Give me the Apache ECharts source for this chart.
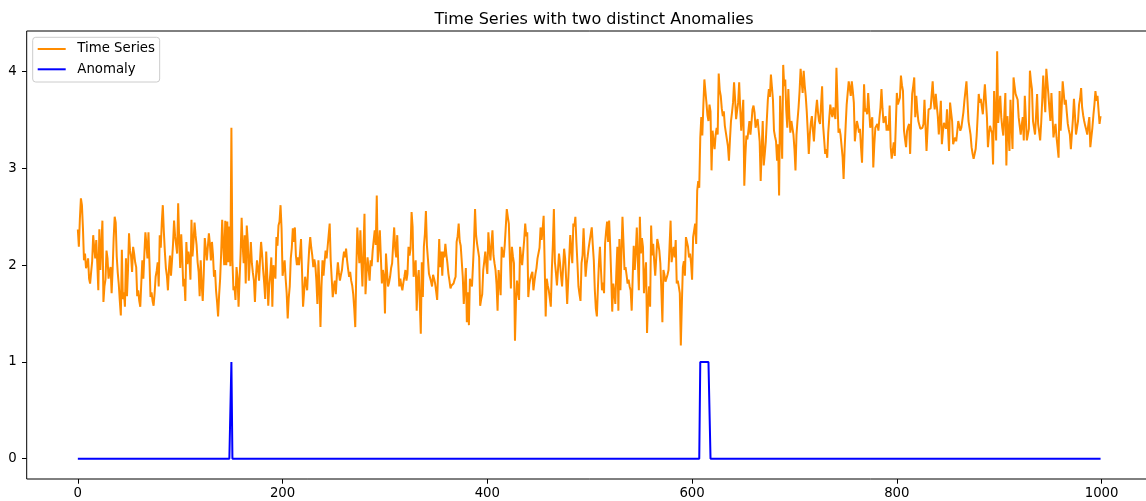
<!DOCTYPE html>
<html>
<head>
<meta charset="utf-8">
<script src="https://cdn.jsdelivr.net/npm/echarts@6/dist/echarts.min.js"></script>
<style>
  html, body { margin: 0; padding: 0; background: #fff; overflow: hidden; }
  #chart { width: 1160px; height: 501px; }
</style>
</head>
<body>
<div id="chart"></div>
<script>
// Time series readings, 100 samples per block (index 0..999)
const seg0 = [ // 0-99
  2.37, 2.19, 2.48, 2.69, 2.62, 2.38, 2.05, 2.12, 1.97, 2.00,
  2.07, 1.86, 1.81, 1.93, 2.04, 2.31, 2.18, 2.07, 2.26, 2.02,
  1.74, 2.37, 1.95, 2.21, 2.46, 1.62, 1.78, 1.85, 2.15, 2.07,
  1.86, 1.94, 1.98, 1.71, 1.96, 2.28, 2.50, 2.44, 2.09, 1.92,
  1.80, 1.63, 1.48, 2.16, 1.65, 1.72, 1.57, 2.07, 1.68, 1.95,
  2.33, 2.15, 2.09, 1.93, 2.19, 2.12, 2.03, 1.98, 1.68, 1.74,
  1.63, 1.57, 1.82, 2.05, 1.86, 2.12, 2.34, 2.21, 2.07, 2.34,
  2.02, 1.67, 1.72, 1.63, 1.58, 1.71, 1.88, 1.94, 2.03, 1.78,
  2.31, 2.18, 2.44, 2.62, 2.35, 2.14, 1.97, 1.89, 1.74, 1.96,
  2.10, 1.89, 2.05, 2.22, 2.46, 2.30, 2.21, 2.12, 2.64, 2.27
];
const seg1 = [ // 100-199
  1.97, 2.32, 2.08, 1.78, 1.86, 1.63, 2.24, 2.01, 2.14, 2.06,
  1.85, 2.47, 2.09, 2.24, 2.44, 2.31, 2.21, 2.03, 1.93, 1.68,
  2.05, 1.79, 1.63, 1.91, 2.28, 2.17, 2.05, 2.19, 2.33, 2.22,
  2.05, 2.24, 2.11, 1.88, 1.95, 1.74, 1.62, 1.47, 1.69, 1.86,
  2.12, 2.47, 2.21, 2.00, 2.46, 2.00, 2.45, 2.03, 2.40, 1.99,
  3.42, 2.05, 1.74, 1.78, 1.64, 1.98, 1.87, 1.57, 1.86, 2.12,
  2.49, 2.21, 2.02, 2.31, 1.81, 2.41, 2.25, 1.84, 2.04, 2.24,
  2.02, 1.92, 1.84, 1.62, 1.88, 2.05, 1.97, 1.84, 2.06, 2.24,
  2.11, 1.95, 1.82, 1.65, 2.14, 1.90, 1.58, 1.79, 1.91, 2.08,
  1.57, 2.00, 1.93, 1.86, 2.29, 2.20, 2.41, 2.45, 2.62, 2.38
];
const seg2 = [ // 200-299
  1.89, 1.97, 2.05, 1.86, 1.71, 1.45, 1.66, 1.78, 2.07, 2.18,
  2.38, 2.24, 2.39, 2.10, 2.00, 2.08, 2.00, 2.12, 2.27, 1.94,
  1.57, 1.72, 1.88, 1.81, 1.74, 1.98, 2.17, 2.29, 2.18, 2.10,
  1.98, 2.06, 2.00, 1.84, 1.60, 2.05, 1.77, 1.36, 1.78, 2.05,
  1.89, 2.03, 2.15, 2.07, 2.19, 2.31, 2.43, 2.05, 1.86, 1.67,
  1.78, 1.84, 1.70, 1.89, 2.03, 1.92, 1.84, 1.90, 1.95, 2.06,
  2.14, 2.08, 2.17, 2.05, 1.96, 1.88, 1.93, 1.84, 1.79, 1.70,
  1.55, 1.36, 1.94, 2.39, 2.18, 2.02, 2.36, 2.04, 1.78, 2.15,
  2.53, 1.70, 1.92, 2.08, 1.96, 1.84, 2.05, 1.99, 2.15, 2.26,
  2.36, 2.21, 2.72, 2.03, 2.19, 2.36, 2.08, 1.81, 1.95, 1.88
];
const seg3 = [ // 300-399
  1.50, 2.12, 1.94, 1.78, 1.82, 1.88, 1.97, 2.02, 2.21, 2.39,
  2.17, 2.08, 2.31, 2.02, 1.78, 1.86, 1.79, 1.74, 1.82, 1.88,
  1.95, 1.84, 1.91, 2.19, 2.10, 2.17, 2.55, 2.40, 1.88, 1.86,
  2.05, 1.53, 1.85, 1.95, 1.62, 1.29, 2.03, 1.67, 2.19, 2.32,
  2.56, 2.20, 2.06, 1.91, 1.91, 1.83, 1.78, 1.90, 1.86, 1.81,
  1.73, 1.64, 1.95, 2.27, 1.98, 2.14, 1.89, 2.14, 2.08, 2.22,
  2.11, 2.02, 1.91, 1.84, 1.76, 1.79, 1.81, 1.81, 1.85, 1.88,
  2.24, 2.30, 2.43, 2.25, 2.20, 2.19, 1.88, 1.60, 1.78, 1.97,
  1.41, 1.72, 1.38, 1.86, 1.81, 1.78, 2.00, 2.24, 2.58, 2.31,
  2.22, 2.15, 2.08, 1.58, 1.65, 1.70, 1.95, 2.04, 2.14, 2.01
];
const seg4 = [ // 400-499
  1.91, 2.34, 2.18, 2.05, 2.22, 2.36, 2.10, 2.02, 1.95, 1.80,
  1.53, 1.95, 1.84, 1.69, 2.19, 2.12, 2.08, 2.21, 2.39, 2.58,
  2.50, 2.43, 2.07, 1.76, 2.19, 2.09, 2.02, 1.22, 1.63, 1.84,
  1.72, 1.64, 2.19, 2.08, 2.00, 2.13, 2.26, 2.43, 2.30, 2.34,
  1.67, 1.80, 1.86, 1.90, 1.93, 1.74, 1.83, 1.91, 1.97, 2.07,
  2.07, 2.18, 2.39, 2.26, 2.37, 2.51, 2.02, 1.47, 1.86, 1.79,
  1.74, 1.66, 1.57, 1.95, 2.21, 2.58, 2.03, 1.92, 1.79, 1.95,
  2.12, 2.02, 1.89, 1.78, 1.98, 2.17, 2.07, 1.85, 1.60, 1.84,
  2.08, 2.31, 2.15, 2.02, 2.43, 2.40, 2.50, 2.24, 2.02, 1.78,
  1.70, 1.63, 2.02, 2.10, 2.38, 2.12, 1.88, 2.01, 2.09, 2.18
];
const seg5 = [ // 500-599
  2.25, 2.32, 2.39, 2.21, 2.05, 1.74, 1.55, 1.47, 1.76, 2.02,
  2.19, 1.95, 1.74, 1.82, 1.71, 2.22, 2.35, 2.45, 2.24, 2.46,
  2.20, 1.88, 1.52, 1.81, 1.72, 1.60, 1.93, 2.19, 1.53, 2.27,
  1.74, 2.12, 2.50, 2.23, 1.95, 1.98, 1.90, 1.81, 1.85, 1.78,
  1.74, 1.53, 1.88, 2.20, 1.95, 2.14, 2.39, 2.05, 1.74, 2.50,
  2.12, 2.28, 2.19, 1.71, 1.90, 2.03, 1.30, 1.62, 1.78, 1.57,
  2.41, 2.10, 2.22, 2.04, 1.89, 2.08, 2.27, 2.22, 2.15, 2.02,
  1.74, 1.41, 1.95, 1.90, 1.83, 1.85, 1.90, 1.95, 2.20, 2.46,
  2.03, 2.12, 2.19, 2.08, 2.26, 1.81, 1.84, 1.78, 1.71, 1.17,
  1.60, 1.98, 2.04, 1.89, 2.29, 2.24, 2.19, 2.08, 2.12, 2.02
];
const seg6 = [ // 600-699
  1.85, 2.29, 2.36, 2.43, 2.22, 2.77, 2.87, 2.80, 3.32, 3.53,
  3.34, 3.65, 3.92, 3.80, 3.68, 3.55, 3.49, 3.66, 3.59, 2.98,
  3.39, 3.28, 3.20, 3.35, 3.42, 3.35, 3.98, 3.81, 3.75, 3.62,
  3.54, 3.59, 3.44, 3.37, 3.30, 3.23, 3.08, 3.30, 3.49, 3.58,
  3.68, 3.89, 3.72, 3.51, 3.60, 3.68, 3.89, 3.62, 3.39, 3.55,
  3.71, 2.82, 3.12, 3.34, 3.30, 3.39, 3.49, 3.35, 3.47, 3.61,
  3.65, 3.58, 3.42, 3.47, 3.51, 3.40, 3.28, 2.87, 3.20, 3.49,
  3.03, 3.15, 3.28, 3.50, 3.71, 3.82, 3.74, 3.97, 3.84, 3.71,
  3.39, 3.33, 3.28, 3.08, 3.25, 2.72, 3.75, 3.40, 3.10, 4.07,
  3.85, 3.92, 3.60, 3.42, 3.82, 3.55, 3.37, 3.49, 3.42, 3.35
];
const seg7 = [ // 700-799
  3.20, 2.98, 3.35, 3.50, 3.63, 3.80, 4.03, 3.90, 3.78, 4.01,
  3.86, 3.75, 3.59, 3.38, 3.15, 3.35, 3.47, 3.54, 3.40, 3.28,
  3.46, 3.60, 3.71, 3.58, 3.49, 3.46, 3.66, 3.85, 3.44, 3.30,
  3.15, 3.20, 3.11, 3.37, 3.52, 3.66, 3.58, 3.53, 3.63, 3.57,
  3.51, 4.04, 3.70, 3.37, 3.41, 3.35, 3.37, 3.12, 2.89, 3.20,
  3.44, 3.66, 3.78, 3.90, 3.83, 3.75, 3.90, 3.80, 3.68, 3.28,
  3.40, 3.49, 3.44, 3.37, 3.41, 3.22, 3.06, 3.45, 3.87, 3.59,
  3.62, 3.56, 3.78, 3.60, 3.42, 3.48, 3.53, 3.01, 3.25, 3.42,
  3.44, 3.46, 3.39, 3.52, 3.63, 3.82, 3.62, 3.47, 3.50, 3.54,
  3.39, 3.45, 3.39, 3.65, 3.22, 3.10, 3.12, 3.27, 3.13, 3.45
];
const seg8 = [ // 800-899
  3.78, 3.66, 3.68, 3.73, 3.96, 3.86, 3.80, 3.39, 3.30, 3.22,
  3.39, 3.43, 3.46, 3.15, 3.50, 3.77, 3.85, 3.94, 3.53, 3.75,
  3.60, 3.49, 3.45, 3.41, 3.39, 3.42, 3.46, 3.71, 3.44, 3.18,
  3.40, 3.61, 3.59, 3.62, 3.63, 3.90, 3.70, 3.61, 3.77, 3.65,
  3.54, 3.35, 3.52, 3.70, 3.25, 3.38, 3.47, 3.44, 3.41, 3.61,
  3.40, 3.18, 3.68, 3.58, 3.49, 3.25, 3.29, 3.32, 3.28, 3.38,
  3.49, 3.44, 3.39, 3.42, 3.50, 3.58, 3.70, 3.80, 3.90, 3.70,
  3.49, 3.47, 3.35, 3.22, 3.15, 3.10, 3.08, 3.20, 3.34, 3.55,
  3.77, 3.68, 3.72, 3.70, 3.56, 3.72, 3.87, 3.70, 3.53, 3.22,
  3.35, 3.44, 3.40, 3.37, 3.04, 3.80, 3.55, 3.29, 4.21, 3.47
];
const seg9 = [ // 900-999
  3.62, 3.75, 3.53, 3.42, 3.34, 3.55, 3.78, 3.03, 3.54, 3.38,
  3.18, 3.71, 3.45, 3.20, 3.94, 3.85, 3.77, 3.74, 3.71, 3.53,
  3.44, 3.35, 3.45, 3.53, 3.29, 3.75, 3.52, 3.29, 3.35, 3.41,
  4.01, 3.90, 3.82, 3.49, 3.42, 3.35, 3.55, 3.77, 3.46, 3.38,
  3.29, 3.47, 3.70, 3.96, 3.75, 3.58, 4.03, 3.90, 3.77, 3.62,
  3.49, 3.78, 3.55, 3.32, 3.40, 3.46, 3.32, 3.22, 3.11, 3.80,
  3.39, 3.62, 3.90, 3.78, 3.66, 3.71, 3.58, 3.46, 3.40, 3.35,
  3.20, 3.36, 3.51, 3.72, 3.55, 3.35, 3.42, 3.49, 3.66, 3.72,
  3.83, 3.63, 3.55, 3.49, 3.44, 3.40, 3.35, 3.45, 3.53, 3.22,
  3.32, 3.42, 3.55, 3.66, 3.80, 3.70, 3.75, 3.76, 3.46, 3.54
];

// Indices flagged as anomalous (flag = 1, everything else 0)
const anomalyIndices = [150, 608, 609, 610, 611, 612, 613, 614, 615, 616, 617];

const xTicks = [0, 200, 400, 600, 800, 1000];
const yTicks = [0, 1, 2, 3, 4];

const seriesNames = ['Time Series', 'Anomaly'];
const chartTitle = 'Time Series with two distinct Anomalies';

// Assemble [index, value] pairs for the library
const tsValues = [].concat(seg0, seg1, seg2, seg3, seg4, seg5, seg6, seg7, seg8, seg9);
const tsData = tsValues.map((v, i) => [i, v]);
const flagged = new Set(anomalyIndices);
const anomalyData = tsValues.map((_, i) => [i, flagged.has(i) ? 1 : 0]);

const FONT = 'DejaVu Sans';
const plainNumber = v => String(v);
const chart = echarts.init(document.getElementById('chart'), null, { renderer: 'canvas' });

chart.setOption({
  animation: false,
  backgroundColor: '#ffffff',
  title: {
    text: chartTitle,
    left: 589,
    textAlign: 'center',
    top: 7,
    textStyle: { fontFamily: FONT, fontSize: 16, fontWeight: 'normal', color: '#000' }
  },
  legend: {
    data: seriesNames,
    orient: 'vertical',
    left: 32.7,
    top: 37.3,
    padding: [3.7, 4.7, 4.7, 5],
    itemGap: 4.3,
    itemWidth: 28,
    itemHeight: 2,
    icon: 'rect',
    backgroundColor: 'rgba(255,255,255,0.8)',
    borderColor: '#cccccc',
    borderWidth: 1,
    borderRadius: 3,
    selectedMode: false,
    textStyle: {
      fontFamily: FONT, fontSize: 13.3, color: '#000',
      lineHeight: 16, padding: [0, 0, 0, 6.6]
    }
  },
  grid: {
    left: 26.7,
    top: 31,
    width: 1125,
    height: 448,
    show: true,
    borderColor: '#000',
    borderWidth: 1,
    backgroundColor: 'transparent',
    containLabel: false
  },
  xAxis: {
    type: 'value',
    position: 'bottom',
    min: -49.95,
    max: 1048.95,
    splitLine: { show: false },
    axisLine: { show: false, onZero: false },
    axisTick: {
      show: true, length: 4.7, customValues: xTicks,
      lineStyle: { color: '#000', width: 1 }
    },
    axisLabel: {
      customValues: xTicks, margin: 8, formatter: plainNumber,
      fontFamily: FONT, fontSize: 13.3, color: '#000'
    }
  },
  yAxis: {
    type: 'value',
    position: 'left',
    min: -0.2105,
    max: 4.4205,
    splitLine: { show: false },
    axisLine: { show: false, onZero: false },
    axisTick: {
      show: true, length: 4.7, customValues: yTicks,
      lineStyle: { color: '#000', width: 1 }
    },
    axisLabel: {
      customValues: yTicks, margin: 10, formatter: plainNumber,
      fontFamily: FONT, fontSize: 13.3, color: '#000'
    }
  },
  series: [
    {
      name: seriesNames[0],
      type: 'line',
      data: tsData,
      color: '#ff8c00',
      showSymbol: false,
      symbol: 'none',
      sampling: null,
      lineStyle: { color: '#ff8c00', width: 2 },
      z: 2
    },
    {
      name: seriesNames[1],
      type: 'line',
      data: anomalyData,
      color: '#0000ff',
      showSymbol: false,
      symbol: 'none',
      lineStyle: { color: '#0000ff', width: 2 },
      z: 3
    }
  ]
});
</script>
</body>
</html>
